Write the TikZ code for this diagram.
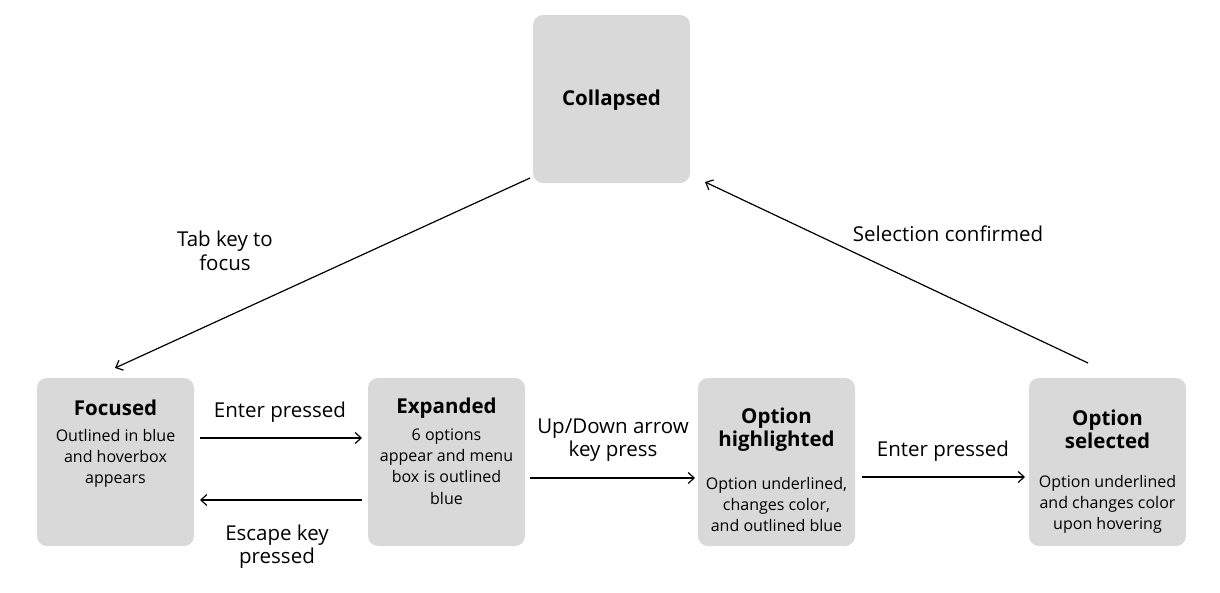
\documentclass[tikz,border=0pt]{standalone}
\usepackage{fontspec}
\setmainfont{Open Sans}
\usetikzlibrary{arrows.meta}
\begin{document}
\begin{tikzpicture}[x=1pt,y=-1pt,
  box/.style={fill=boxgray,rounded corners=10pt,minimum width=157pt,minimum height=168pt,inner sep=0pt,anchor=center},
  ttl/.style={font=\fontsize{20.5}{23}\selectfont\bfseries,align=center,inner sep=0pt},
  body/.style={font=\fontsize{16}{21.3}\selectfont,align=center,inner sep=0pt},
  lbl/.style={font=\fontsize{20.5}{23.5}\selectfont,align=center,inner sep=0pt},
  arr/.style={draw=black,line width=1.2pt,-{Straight Barb[length=6pt,width=11pt,line width=1.2pt]}}]
\definecolor{boxgray}{HTML}{D9D9D9}
\useasboundingbox (0,0) rectangle (1220,592);
\fill[white] (0,0) rectangle (1220,592);
% boxes
\node[box] (col) at (611.5,99) {};
\node[box] (foc) at (115.5,462) {};
\node[box] (exp) at (446.5,462) {};
\node[box] (hig) at (776.5,462) {};
\node[box] (sel) at (1107.5,462) {};
% texts
\node[ttl] (colt) at (611.5,100) {Collapsed};
\node[ttl] (foct) at (115.5,408) {Focused};
\node[body] (focb) at (115.5,458.5) {Outlined in blue\\and hoverbox\\appears};
\node[ttl] (expt) at (446.5,408) {Expanded};
\node[body] (expb) at (446.5,466.5) {6 options\\appear and menu\\box is outlined\\blue};
\node[ttl] (higt) at (776.5,429.5) {Option\\highlighted};
\node[body] (higb) at (776.5,504.5) {Option underlined,\\changes color,\\and outlined blue};
\node[ttl] (selt) at (1107.5,429.5) {Option\\selected};
\node[body] (selb) at (1107.5,504.5) {Option underlined\\and changes color\\upon hovering};
% connector end points
\coordinate (a1) at (530,178);
\coordinate (a2) at (115,368);
\coordinate (b1) at (1088,363);
\coordinate (b2) at (705,182);
\coordinate (c1) at (200,438);
\coordinate (c2) at (362,438);
\coordinate (d1) at (362,500);
\coordinate (d2) at (200,500);
\coordinate (e1) at (530,478);
\coordinate (e2) at (695,478);
\coordinate (f1) at (862,477);
\coordinate (f2) at (1025,477);
\draw[arr] (a1) -- (a2);
\draw[arr] (b1) -- (b2);
\draw[arr] (c1) -- (c2);
\draw[arr] (d1) -- (d2);
\draw[arr] (e1) -- (e2);
\draw[arr] (f1) -- (f2);
% labels
\node[lbl] (l1) at (225,251) {Tab key to\\focus};
\node[lbl] (l2) at (948,234) {Selection confirmed};
\node[lbl] (l3) at (280,412) {Enter pressed};
\node[lbl] (l4) at (277,546.5) {Escape key\\pressed};
\node[lbl] (l5) at (613,440) {Up/Down arrow\\key press};
\node[lbl] (l6) at (943,451) {Enter pressed};
\end{tikzpicture}
\end{document}
